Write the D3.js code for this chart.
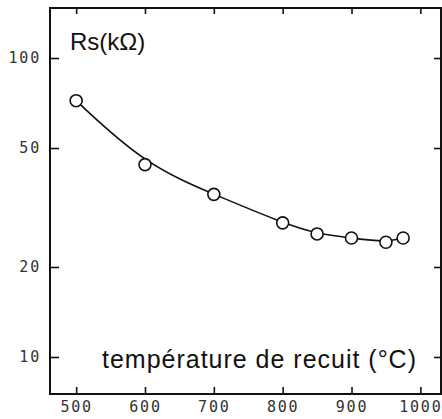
<!DOCTYPE html>
<html>
<head>
<meta charset="utf-8">
<script src="https://cdn.jsdelivr.net/npm/d3@7"></script>
<style>
  body { margin: 0; background: #fff; }
</style>
</head>
<body>
<div id="chart"></div>
<script>
// data
const temps = [500, 600, 700, 800, 850, 900, 950, 975];
const rs = [72, 44, 35, 28.1, 25.8, 25.0, 24.2, 25.0];
const xTicks = [500, 600, 700, 800, 900, 1000];
const yTicks = [10, 20, 50, 100];

function drawChart() {
    const W = 442, H = 419;
    const margin = {l: 50, r: 1, t: 8, b: 25};
    const width = W - margin.l - margin.r;
    const height = H - margin.t - margin.b;

    let outer = d3.select("#chart").append("svg")
        .attr("width", W)
        .attr("height", H);
    outer.append("rect").attr("width", W).attr("height", H).attr("fill", "#fff");

    let svg = outer.append("g")
        .attr("transform", `translate(${margin.l},${margin.t})`);

    let x = d3.scaleLinear().domain([462, 1030]).range([0, width]);
    let y = d3.scaleLog().domain([7.52, 147]).range([height, 0]);

    // frame
    svg.append("rect")
        .attr("width", width).attr("height", height)
        .attr("fill", "none").attr("stroke", "#111").attr("stroke-width", 2);

    const tickFont = "'DejaVu Sans Mono', monospace";

    // bottom axis, ticks pointing in
    let xb = svg.append("g")
        .attr("transform", `translate(0,${height})`)
        .call(d3.axisBottom(x).tickValues(xTicks).tickSize(-7).tickPadding(7).tickFormat(d3.format("d")));
    // top axis ticks
    let xt = svg.append("g")
        .call(d3.axisTop(x).tickValues(xTicks).tickSize(-6).tickFormat(""));
    // left axis
    let yl = svg.append("g")
        .call(d3.axisLeft(y).tickValues(yTicks).tickSize(-9).tickPadding(9).tickFormat(d3.format("d")));
    // right axis
    let yr = svg.append("g")
        .attr("transform", `translate(${width},0)`)
        .call(d3.axisRight(y).tickValues(yTicks).tickSize(-7).tickFormat(""));

    [xb, xt, yl, yr].forEach(function(g) {
        g.select(".domain").remove();
        g.selectAll(".tick line").attr("stroke", "#111").attr("stroke-width", 1.6);
        g.selectAll("text")
            .attr("font-family", tickFont)
            .attr("font-size", 15)
            .attr("letter-spacing", 1.8)
            .attr("fill", "#333");
    });

    // fitted curve through the points
    svg.append("path")
        .datum(rs)
        .attr("d", d3.line()
            .x(function(d, i) { return x(temps[i]); })
            .y(function(d) { return y(d); })
            .curve(d3.curveBasis))
        .attr("fill", "none")
        .attr("stroke", "#111")
        .attr("stroke-width", 1.6);

    // points
    svg.selectAll("circle.pt")
        .data(rs)
        .enter()
        .append("circle")
        .attr("class", "pt")
        .attr("cx", function(d, i) { return x(temps[i]); })
        .attr("cy", function(d) { return y(d); })
        .attr("r", 6)
        .attr("fill", "#fff")
        .attr("stroke", "#111")
        .attr("stroke-width", 1.6);

    // labels
    svg.append("text")
        .attr("x", 20)
        .attr("y", 42)
        .attr("font-family", "'Liberation Sans', Arial, sans-serif")
        .attr("font-size", 24)
        .attr("fill", "#111")
        .text("Rs(kΩ)");

    svg.append("text")
        .attr("x", 52)
        .attr("y", 360)
        .attr("font-family", "'Liberation Sans', Arial, sans-serif")
        .attr("font-size", 25)
        .attr("textLength", 314)
        .attr("lengthAdjust", "spacing")
        .attr("fill", "#111")
        .text("température de recuit (°C)");
}

drawChart();
</script>
</body>
</html>
